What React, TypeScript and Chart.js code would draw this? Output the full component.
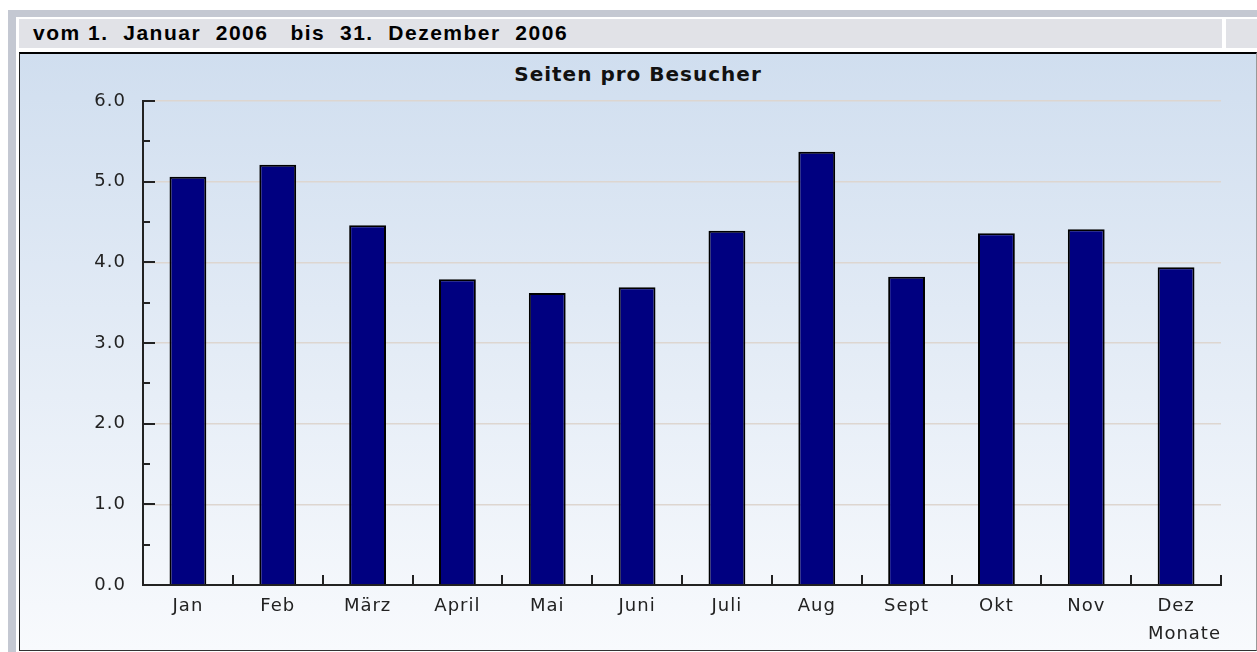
import React, { useEffect, useRef } from "react";
import { Chart, registerables } from "chart.js";

Chart.register(...registerables);

const headerText = "vom 1.  Januar  2006   bis  31.  Dezember  2006";
const chartTitle = "Seiten pro Besucher";
const xAxisTitle = "Monate";
const months = ["Jan", "Feb", "März", "April", "Mai", "Juni", "Juli", "Aug", "Sept", "Okt", "Nov", "Dez"];
const pagesPerVisitor = [5.06, 5.21, 4.46, 3.79, 3.62, 3.69, 4.39, 5.37, 3.82, 4.36, 4.41, 3.94];
const yMajorTicks = [0, 1, 2, 3, 4, 5, 6];
const yMinorTicks = [0.5, 1.5, 2.5, 3.5, 4.5, 5.5];

const tickFont = { family: "'DejaVu Sans', Verdana, sans-serif", size: 18 };

const innerTicks = {
  id: "innerTicks",
  beforeDraw(chart: any) {
    chart.ctx.letterSpacing = "1px";
  },
  afterDatasetsDraw(chart: any) {
    const { ctx, chartArea, scales } = chart;
    const xs = scales.x;
    const ys = scales.y;
    ctx.save();
    ctx.strokeStyle = "#222";
    ctx.lineWidth = 2;
    ctx.beginPath();
    yMajorTicks.forEach((v) => {
      const py = Math.round(ys.getPixelForValue(v));
      ctx.moveTo(chartArea.left, py);
      ctx.lineTo(chartArea.left + 12, py);
    });
    yMinorTicks.forEach((v) => {
      const py = Math.round(ys.getPixelForValue(v));
      ctx.moveTo(chartArea.left, py);
      ctx.lineTo(chartArea.left + 7, py);
    });
    for (let i = 1; i <= months.length; i++) {
      const px = Math.round(xs.getPixelForValue(i - 0.5));
      ctx.moveTo(px, chartArea.bottom);
      ctx.lineTo(px, chartArea.bottom - 10);
    }
    ctx.stroke();
    ctx.restore();
  },
};

function BarChart() {
  const ref = useRef<HTMLCanvasElement>(null);
  useEffect(() => {
    if (!ref.current) return;
    const chart = new Chart(ref.current, {
      type: "bar",
      data: {
        labels: months,
        datasets: [
          {
            data: pagesPerVisitor,
            backgroundColor: "#000080",
            borderColor: "#000",
            borderWidth: 2,
            categoryPercentage: 1,
            barPercentage: 0.41,
          },
        ],
      },
      options: {
        responsive: false,
        animation: false,
        layout: { padding: { top: 47, right: 35, left: 0, bottom: 0 } },
        plugins: { legend: { display: false }, tooltip: { enabled: false }, title: { display: false } },
        scales: {
          x: {
            grid: { display: false },
            border: { display: true, color: "#222", width: 2 },
            ticks: { color: "#222", font: tickFont, padding: 3, maxRotation: 0, autoSkip: false },
            title: {
              display: true,
              text: xAxisTitle,
              align: "end",
              color: "#222",
              font: tickFont,
              padding: { top: 5, bottom: 5 },
            },
            afterFit: (s: any) => {
              s.height = 65;
            },
          },
          y: {
            min: 0,
            max: 6,
            grid: { color: "#ddd6d0", lineWidth: 1.5, drawTicks: false },
            border: { display: true, color: "#222", width: 2 },
            ticks: {
              stepSize: 1,
              color: "#222",
              font: tickFont,
              padding: 17,
              callback: (v: any) => Number(v).toFixed(1),
            },
            afterFit: (s: any) => {
              s.width = 123;
            },
          },
        },
      },
      plugins: [innerTicks],
    });
    return () => chart.destroy();
  }, []);
  return <canvas ref={ref} width={1236} height={596} style={{ position: "absolute", left: 0, top: 0, width: 1236, height: 596 }} />;
}

export default function App() {
  return (
    <div style={{ position: "fixed", left: 0, top: 0, width: 1257, height: 652, background: "#fff", overflow: "hidden" }}>
      <div style={{ position: "absolute", left: 8, top: 10, right: 0, bottom: 0, background: "#c4c8d2" }} />
      <div style={{ position: "absolute", left: 16, top: 17, right: 0, bottom: 0, background: "#fff" }} />
      <div
        style={{
          position: "absolute",
          left: 19,
          top: 19,
          width: 1203,
          height: 29,
          background: "#e1e2e7",
        }}
      >
        <div
          style={{
            position: "absolute",
            left: 14,
            top: 2,
            whiteSpace: "pre",
            fontFamily: "'Liberation Sans', Arial, sans-serif",
            fontWeight: "bold",
            fontSize: 21,
            lineHeight: "24px",
            letterSpacing: "1.5px",
            color: "#000",
          }}
        >
          {headerText}
        </div>
      </div>
      <div style={{ position: "absolute", left: 1226, top: 19, right: 0, height: 29, background: "#e1e2e7" }} />
      <div
        style={{
          position: "absolute",
          left: 19,
          top: 52,
          width: 1238,
          height: 599,
          boxSizing: "border-box",
          borderTop: "2px solid #000",
          borderLeft: "1px solid #222",
          borderBottom: "1px solid #333",
          borderRight: "1px solid #999",
          background: "linear-gradient(to bottom, #d0deef 0%, #f8fafd 100%)",
        }}
      >
        <div
          style={{
            position: "absolute",
            left: 0,
            width: 1236,
            top: 8,
            textAlign: "center",
            fontFamily: "'DejaVu Sans', Verdana, sans-serif",
            fontWeight: "bold",
            fontSize: 20,
            lineHeight: "24px",
            letterSpacing: "1px",
            color: "#111",
          }}
        >
          {chartTitle}
        </div>
        <BarChart />
      </div>
    </div>
  );
}
